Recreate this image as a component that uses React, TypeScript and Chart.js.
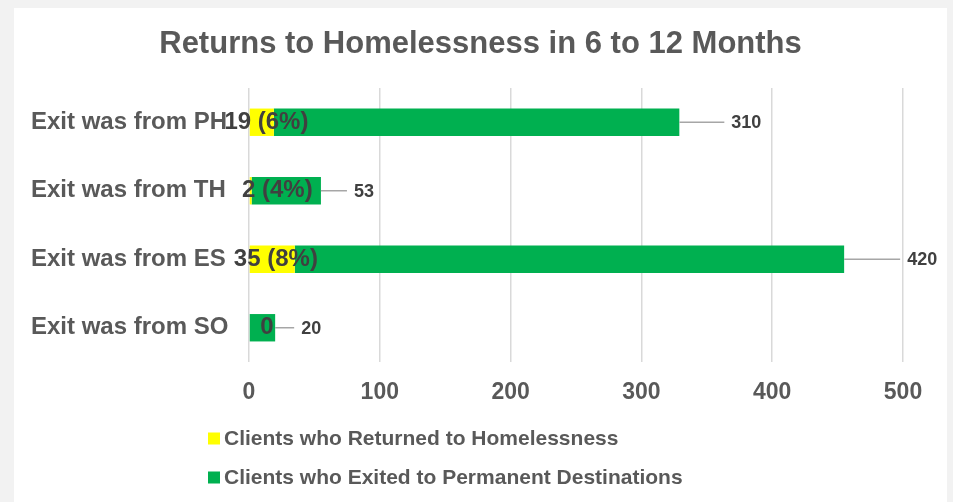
import React, { useEffect, useRef } from 'react';
import { Chart, registerables } from 'chart.js';

Chart.register(...registerables);

// ---------- data ----------
const categories = ['Exit was from PH', 'Exit was from TH', 'Exit was from ES', 'Exit was from SO'];
const returnedCounts = [19, 2, 35, 0];
const exitedCounts = [310, 53, 420, 20];
const xTickValues = [0, 100, 200, 300, 400, 500];
const seriesNames = ['Clients who Returned to Homelessness', 'Clients who Exited to Permanent Destinations'];
const chartTitle = 'Returns to Homelessness in 6 to 12 Months';

// ---------- style ----------
const seriesColors = ['#ffff00', '#00b050'];
const FONT = '"Liberation Sans", Arial, Helvetica, sans-serif';
const returnedLabelNudge = [5, 27, 4, 18];
const exitedLabelGap = [52, 33, 63, 26];

const titlePlugin = {
  id: 'panelTitle',
  afterDraw(chart: any) {
    const ctx = chart.ctx;
    ctx.save();
    ctx.font = `bold 31px ${FONT}`;
    ctx.fillStyle = '#595959';
    ctx.textAlign = 'center';
    ctx.textBaseline = 'middle';
    ctx.fillText(chartTitle, 480.5, 44);
    ctx.restore();
  },
};

const labelPlugin = {
  id: 'barLabels',
  afterDatasetsDraw(chart: any) {
    const ctx = chart.ctx;
    const xs = chart.scales.x;
    const meta = chart.getDatasetMeta(1);
    ctx.save();
    categories.forEach((_, i) => {
      const r = returnedCounts[i];
      const e = exitedCounts[i];
      const y = meta.data[i].y;
      const text = r === 0 ? '0' : `${r} (${Math.round((r / (r + e)) * 100)}%)`;
      ctx.font = `bold 24px ${FONT}`;
      ctx.fillStyle = '#404040';
      ctx.textAlign = 'center';
      ctx.textBaseline = 'middle';
      ctx.fillText(text, xs.getPixelForValue(r / 2) + returnedLabelNudge[i], y);

      const end = xs.getPixelForValue(r + e);
      const tx = end + exitedLabelGap[i];
      ctx.strokeStyle = '#a6a6a6';
      ctx.lineWidth = 1.5;
      ctx.beginPath();
      ctx.moveTo(end, y);
      ctx.lineTo(tx - 7, y);
      ctx.stroke();
      ctx.font = `bold 18px ${FONT}`;
      ctx.textAlign = 'left';
      ctx.fillStyle = '#404040';
      ctx.fillText(String(e), tx, y + 1);
    });
    ctx.restore();
  },
};

const legendPlugin = {
  id: 'stackedLegend',
  afterDraw(chart: any) {
    const ctx = chart.ctx;
    const left = chart.chartArea.left - 41;
    const baseY = chart.chartArea.bottom + 76.5;
    ctx.save();
    chart.data.datasets.forEach((ds: any, i: number) => {
      const cy = baseY + i * 39;
      ctx.fillStyle = ds.backgroundColor;
      ctx.fillRect(left, cy - 6, 12, 12);
      ctx.font = `bold 21px ${FONT}`;
      ctx.fillStyle = '#595959';
      ctx.textAlign = 'left';
      ctx.textBaseline = 'middle';
      ctx.fillText(ds.label, left + 16, cy + 1);
    });
    ctx.restore();
  },
};

export default function App() {
  const ref = useRef<HTMLCanvasElement>(null);
  useEffect(() => {
    if (!ref.current) return;
    const chart = new Chart(ref.current, {
      type: 'bar',
      data: {
        labels: categories,
        datasets: [
          { label: seriesNames[0], data: returnedCounts, backgroundColor: seriesColors[0], borderWidth: 0 },
          { label: seriesNames[1], data: exitedCounts, backgroundColor: seriesColors[1], borderWidth: 0 },
        ],
      },
      options: {
        indexAxis: 'y',
        responsive: false,
        animation: false,
        devicePixelRatio: 1,
        layout: { padding: { left: 31, right: 50, top: 88, bottom: 90 } },
        datasets: { bar: { categoryPercentage: 1, barPercentage: 0.4 } },
        scales: {
          x: {
            stacked: true,
            min: 0,
            max: 500,
            afterBuildTicks: (s: any) => {
              s.ticks = xTickValues.map((v) => ({ value: v }));
            },
            afterFit: (s: any) => {
              s.height = 50;
            },
            grid: { color: '#d9d9d9', lineWidth: 1.5, drawTicks: false },
            border: { display: false },
            ticks: { padding: 16.5, color: '#595959', font: { family: FONT, size: 23, weight: 'bold' } },
          },
          y: {
            stacked: true,
            afterFit: (s: any) => {
              s.width = 218;
            },
            grid: { display: false },
            border: { display: false },
            ticks: { crossAlign: 'far', padding: 0, color: '#595959', font: { family: FONT, size: 24, weight: 'bold' } },
          },
        },
        plugins: {
          legend: { display: false },
          tooltip: { enabled: false },
          title: { display: false },
        },
      },
      plugins: [labelPlugin, legendPlugin, titlePlugin],
    } as any);
    return () => chart.destroy();
  }, []);

  return (
    <div style={{ position: 'absolute', left: 0, top: 0, width: 953, height: 502, background: '#f2f2f2', overflow: 'hidden' }}>
      <div style={{ position: 'absolute', left: 14, top: 8, width: 933, height: 494, background: '#ffffff' }} />
      <canvas ref={ref} width={953} height={502} style={{ position: 'absolute', left: 0, top: 0, width: 953, height: 502 }} />
    </div>
  );
}
